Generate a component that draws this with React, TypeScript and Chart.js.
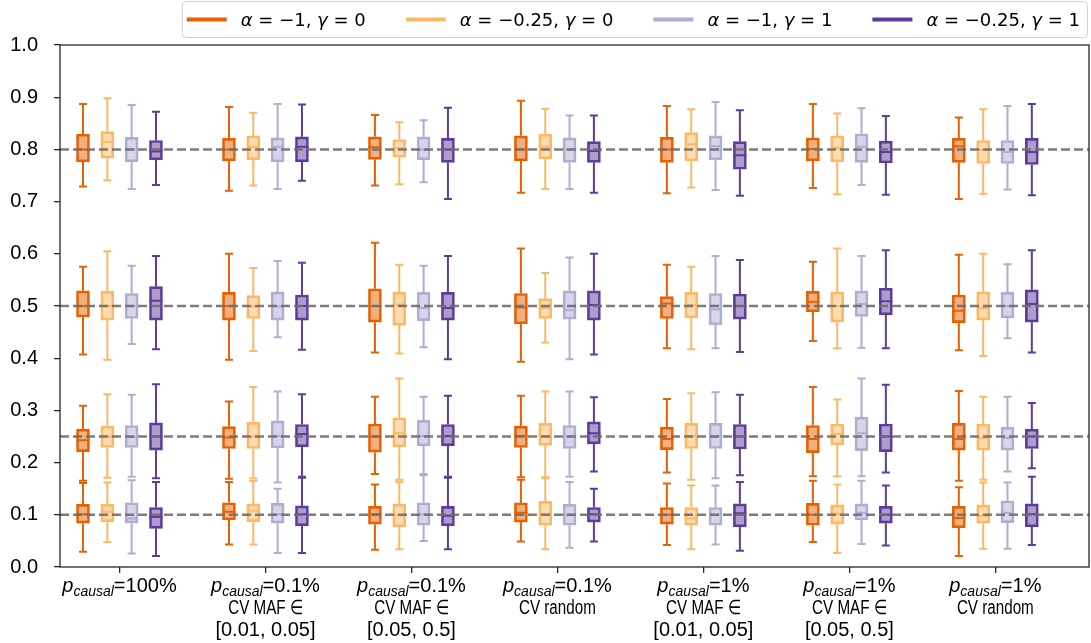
import React, { useEffect, useRef } from "react";
import { Chart, registerables } from "chart.js";

Chart.register(...registerables);

// ---------------- data ----------------
const SERIES_NAMES = ["α = −1, γ = 0", "α = −0.25, γ = 0", "α = −1, γ = 1", "α = −0.25, γ = 1"];
const SERIES_COLORS = ["#e66101", "#fdb863", "#b2abd2", "#5e3c99"];
const SERIES_FILLS = ["rgba(230,97,1,0.5)", "rgba(253,184,99,0.5)", "rgba(178,171,210,0.5)", "rgba(94,60,153,0.5)"];

const P_CAUSAL = ["100%", "0.1%", "0.1%", "0.1%", "1%", "1%", "1%"];
const CV_LINE = ["", "CV MAF ∈", "CV MAF ∈", "CV random", "CV MAF ∈", "CV MAF ∈", "CV random"];
const MAF_LINE = ["", "[0.01, 0.05]", "[0.05, 0.5]", "", "[0.01, 0.05]", "[0.05, 0.5]", ""];

const TRUE_LEVELS = [0.8, 0.5, 0.25, 0.1];
const Y_MIN = 0;
const Y_MAX = 1;
const Y_STEP = 0.1;

// each box: [whiskerLow, q1, median, q3, whiskerHigh]; per group, levels 0.8, 0.5, 0.25, 0.1
const BOXES_A1_G0 = [
  [0.729, 0.776, 0.800, 0.829, 0.887], [0.407, 0.479, 0.500, 0.529, 0.575], [0.165, 0.221, 0.243, 0.264, 0.309], [0.029, 0.084, 0.101, 0.120, 0.161],
  [0.721, 0.778, 0.800, 0.821, 0.881], [0.397, 0.473, 0.500, 0.526, 0.600], [0.169, 0.227, 0.248, 0.269, 0.317], [0.043, 0.090, 0.106, 0.123, 0.163],
  [0.731, 0.781, 0.804, 0.824, 0.866], [0.411, 0.469, 0.500, 0.533, 0.621], [0.178, 0.220, 0.250, 0.274, 0.326], [0.033, 0.082, 0.101, 0.116, 0.158],
  [0.717, 0.778, 0.800, 0.826, 0.893], [0.393, 0.466, 0.497, 0.524, 0.610], [0.172, 0.229, 0.251, 0.270, 0.328], [0.049, 0.086, 0.104, 0.123, 0.167],
  [0.716, 0.775, 0.800, 0.823, 0.883], [0.419, 0.476, 0.505, 0.518, 0.579], [0.181, 0.225, 0.245, 0.268, 0.322], [0.042, 0.082, 0.100, 0.114, 0.160],
  [0.726, 0.778, 0.801, 0.822, 0.887], [0.433, 0.489, 0.508, 0.528, 0.585], [0.174, 0.219, 0.245, 0.271, 0.345], [0.048, 0.080, 0.100, 0.122, 0.165],
  [0.705, 0.775, 0.806, 0.821, 0.861], [0.415, 0.468, 0.491, 0.521, 0.598], [0.165, 0.224, 0.245, 0.275, 0.337], [0.021, 0.075, 0.094, 0.116, 0.153],
];
const BOXES_A025_G0 = [
  [0.741, 0.783, 0.814, 0.834, 0.898], [0.397, 0.473, 0.500, 0.528, 0.605], [0.171, 0.229, 0.250, 0.270, 0.331], [0.048, 0.087, 0.106, 0.120, 0.162],
  [0.731, 0.780, 0.805, 0.826, 0.870], [0.414, 0.476, 0.499, 0.520, 0.573], [0.170, 0.227, 0.250, 0.277, 0.345], [0.043, 0.087, 0.108, 0.121, 0.165],
  [0.733, 0.785, 0.802, 0.819, 0.852], [0.409, 0.463, 0.503, 0.526, 0.579], [0.167, 0.230, 0.256, 0.286, 0.361], [0.034, 0.077, 0.099, 0.121, 0.163],
  [0.724, 0.782, 0.805, 0.829, 0.878], [0.430, 0.476, 0.496, 0.514, 0.563], [0.172, 0.233, 0.251, 0.275, 0.336], [0.034, 0.080, 0.101, 0.126, 0.170],
  [0.727, 0.778, 0.810, 0.832, 0.877], [0.417, 0.477, 0.502, 0.526, 0.575], [0.167, 0.227, 0.251, 0.275, 0.333], [0.034, 0.080, 0.093, 0.114, 0.156],
  [0.714, 0.776, 0.803, 0.826, 0.869], [0.419, 0.469, 0.500, 0.527, 0.610], [0.174, 0.234, 0.255, 0.274, 0.321], [0.027, 0.082, 0.102, 0.119, 0.158],
  [0.715, 0.773, 0.799, 0.817, 0.877], [0.404, 0.473, 0.496, 0.527, 0.600], [0.167, 0.224, 0.247, 0.274, 0.326], [0.035, 0.084, 0.098, 0.119, 0.162],
];
const BOXES_A1_G1 = [
  [0.724, 0.776, 0.800, 0.823, 0.885], [0.427, 0.476, 0.500, 0.524, 0.577], [0.173, 0.229, 0.249, 0.271, 0.330], [0.026, 0.084, 0.093, 0.123, 0.166],
  [0.724, 0.776, 0.805, 0.822, 0.887], [0.440, 0.473, 0.499, 0.527, 0.586], [0.162, 0.228, 0.251, 0.280, 0.336], [0.027, 0.084, 0.101, 0.122, 0.150],
  [0.737, 0.780, 0.800, 0.824, 0.856], [0.421, 0.472, 0.496, 0.526, 0.577], [0.178, 0.232, 0.251, 0.281, 0.326], [0.050, 0.080, 0.101, 0.123, 0.176],
  [0.724, 0.775, 0.800, 0.822, 0.865], [0.398, 0.475, 0.492, 0.529, 0.593], [0.173, 0.227, 0.250, 0.271, 0.336], [0.037, 0.080, 0.100, 0.120, 0.163],
  [0.722, 0.780, 0.806, 0.826, 0.891], [0.419, 0.464, 0.494, 0.524, 0.596], [0.170, 0.227, 0.250, 0.275, 0.335], [0.043, 0.080, 0.100, 0.114, 0.156],
  [0.732, 0.775, 0.805, 0.830, 0.879], [0.420, 0.480, 0.504, 0.529, 0.596], [0.174, 0.223, 0.256, 0.287, 0.361], [0.044, 0.090, 0.104, 0.121, 0.165],
  [0.723, 0.773, 0.795, 0.817, 0.883], [0.438, 0.477, 0.500, 0.526, 0.580], [0.183, 0.224, 0.247, 0.268, 0.326], [0.035, 0.085, 0.104, 0.127, 0.162],
];
const BOXES_A025_G1 = [
  [0.732, 0.780, 0.796, 0.817, 0.872], [0.417, 0.473, 0.510, 0.537, 0.596], [0.170, 0.224, 0.250, 0.276, 0.350], [0.021, 0.074, 0.096, 0.114, 0.163],
  [0.740, 0.776, 0.805, 0.824, 0.886], [0.416, 0.473, 0.500, 0.521, 0.583], [0.173, 0.230, 0.255, 0.273, 0.331], [0.027, 0.079, 0.101, 0.117, 0.171],
  [0.705, 0.775, 0.800, 0.821, 0.880], [0.398, 0.473, 0.496, 0.526, 0.596], [0.173, 0.232, 0.251, 0.273, 0.328], [0.034, 0.079, 0.098, 0.116, 0.171],
  [0.717, 0.775, 0.797, 0.815, 0.865], [0.407, 0.473, 0.502, 0.529, 0.600], [0.183, 0.236, 0.256, 0.278, 0.325], [0.049, 0.086, 0.101, 0.114, 0.150],
  [0.711, 0.762, 0.789, 0.815, 0.875], [0.412, 0.475, 0.500, 0.523, 0.588], [0.176, 0.226, 0.250, 0.273, 0.330], [0.031, 0.077, 0.103, 0.121, 0.163],
  [0.713, 0.774, 0.795, 0.816, 0.864], [0.419, 0.483, 0.509, 0.534, 0.607], [0.181, 0.221, 0.250, 0.274, 0.349], [0.041, 0.084, 0.100, 0.116, 0.156],
  [0.712, 0.771, 0.795, 0.821, 0.887], [0.411, 0.469, 0.504, 0.531, 0.607], [0.189, 0.227, 0.250, 0.264, 0.314], [0.042, 0.077, 0.101, 0.121, 0.173],
];

const SERIES_BOXES = [BOXES_A1_G0, BOXES_A025_G0, BOXES_A1_G1, BOXES_A025_G1];

// ---------------- layout / style ----------------
const W = 1091;
const H = 643;
const GROUP_STEP = 6;
const BOX_OFFSETS = [-1.5, -0.5, 0.5, 1.5];
const X_MIN = -2.445;
const X_MAX = 39.85;
const Y_AXIS_W = 60;
const BOX_PX = 13;
const CAP_PX = 8;
const AXIS_COLOR = "#262626";
const TICK_FONT = '"Liberation Sans", Arial, sans-serif';
const LEGEND_FONT = '"DejaVu Sans", sans-serif';
const LEGEND_SIZE = 18;

const levelsPerGroup = TRUE_LEVELS.length;
const boxPos = (g: number, s: number) => g * GROUP_STEP + BOX_OFFSETS[s];

function drawRuns(ctx: CanvasRenderingContext2D, runs: { t: string; f: string; dy?: number }[], cx: number, base: number, align: "center" | "left") {
  let total = 0;
  runs.forEach((r) => {
    ctx.font = r.f;
    total += ctx.measureText(r.t).width;
  });
  let x = align === "center" ? cx - total / 2 : cx;
  ctx.textAlign = "left";
  runs.forEach((r) => {
    ctx.font = r.f;
    ctx.fillText(r.t, x, base + (r.dy || 0));
    x += ctx.measureText(r.t).width;
  });
  return total;
}

function legendRuns(label: string) {
  const runs: { t: string; f: string }[] = [];
  for (const ch of label) {
    const it = ch === "α" || ch === "γ";
    const f = (it ? "italic " : "") + LEGEND_SIZE + "px " + LEGEND_FONT;
    const last = runs[runs.length - 1];
    if (last && last.f === f) last.t += ch;
    else runs.push({ t: ch, f });
  }
  return runs;
}

const boxExtras = {
  id: "boxExtras",
  afterDatasetsDraw(chart: any) {
    const { ctx, chartArea } = chart;
    const x = chart.scales.x;
    const y = chart.scales.y;
    ctx.save();
    ctx.lineCap = "butt";
    SERIES_BOXES.forEach((boxes, s) => {
      ctx.strokeStyle = SERIES_COLORS[s];
      ctx.lineWidth = 2;
      boxes.forEach((b, i) => {
        const g = Math.floor(i / levelsPerGroup);
        const cx = x.getPixelForValue(boxPos(g, s));
        const [lo, q1, med, q3, hi] = b.map((v: number) => y.getPixelForValue(v));
        ctx.beginPath();
        ctx.moveTo(cx, q1);
        ctx.lineTo(cx, lo);
        ctx.moveTo(cx - CAP_PX / 2, lo);
        ctx.lineTo(cx + CAP_PX / 2, lo);
        ctx.moveTo(cx, q3);
        ctx.lineTo(cx, hi);
        ctx.moveTo(cx - CAP_PX / 2, hi);
        ctx.lineTo(cx + CAP_PX / 2, hi);
        ctx.moveTo(cx - BOX_PX / 2, med);
        ctx.lineTo(cx + BOX_PX / 2, med);
        ctx.stroke();
      });
    });
    // reference dashed lines
    ctx.strokeStyle = "rgba(110,110,110,0.9)";
    ctx.lineWidth = 2.5;
    ctx.setLineDash([9, 4]);
    TRUE_LEVELS.forEach((v) => {
      const py = y.getPixelForValue(v);
      ctx.beginPath();
      ctx.moveTo(chartArea.left, py);
      ctx.lineTo(chartArea.right, py);
      ctx.stroke();
    });
    ctx.restore();
  },
  afterDraw(chart: any) {
    const { ctx, chartArea } = chart;
    const x = chart.scales.x;
    ctx.save();
    // spines
    ctx.strokeStyle = AXIS_COLOR;
    ctx.lineWidth = 1.3;
    ctx.strokeRect(chartArea.left, chartArea.top, chartArea.right - chartArea.left, chartArea.bottom - chartArea.top);

    // x labels
    ctx.fillStyle = "#000";
    ctx.textBaseline = "alphabetic";
    P_CAUSAL.forEach((p, g) => {
      const cx = x.getPixelForValue(g * GROUP_STEP);
      const base = chartArea.bottom + 25;
      drawRuns(
        ctx,
        [
          { t: "p", f: "italic 20px " + TICK_FONT },
          { t: "causal", f: "italic 14px " + TICK_FONT, dy: 4 },
          { t: "=" + p, f: "20px " + TICK_FONT },
        ],
        cx,
        base,
        "center"
      );
      if (CV_LINE[g]) {
        ctx.save();
        ctx.translate(cx, base + 22);
        ctx.scale(0.76, 1);
        ctx.font = "20px " + TICK_FONT;
        ctx.textAlign = "center";
        ctx.fillText(CV_LINE[g], 0, 0);
        ctx.restore();
      }
      if (MAF_LINE[g]) {
        ctx.font = "20px " + TICK_FONT;
        ctx.textAlign = "center";
        ctx.fillText(MAF_LINE[g], cx, base + 44);
      }
    });

    // legend
    const HANDLE = 40;
    const PAD = 14;
    const COLSP = 40;
    const widths = SERIES_NAMES.map((n) => {
      let w = 0;
      legendRuns(n).forEach((r) => {
        ctx.font = r.f;
        w += ctx.measureText(r.t).width;
      });
      return w;
    });
    const total = widths.reduce((a, w) => a + HANDLE + PAD + w, 0) + COLSP * (SERIES_NAMES.length - 1);
    const boxRight = 1087;
    const boxLeft = boxRight - total - 12;
    ctx.fillStyle = "rgba(255,255,255,0.85)";
    ctx.strokeStyle = "#d0d0d0";
    ctx.lineWidth = 1;
    ctx.beginPath();
    ctx.roundRect(boxLeft + 0.5, 1.5, boxRight - boxLeft, 36, 4);
    ctx.fill();
    ctx.stroke();
    let lx = boxLeft + 5;
    SERIES_NAMES.forEach((n, s) => {
      ctx.strokeStyle = SERIES_COLORS[s];
      ctx.lineWidth = 4;
      ctx.beginPath();
      ctx.moveTo(lx, 19.5);
      ctx.lineTo(lx + HANDLE, 19.5);
      ctx.stroke();
      ctx.fillStyle = "#000";
      drawRuns(ctx, legendRuns(n), lx + HANDLE + PAD, 26, "left");
      lx += HANDLE + PAD + widths[s] + COLSP;
    });
    ctx.restore();
  },
};

export default function App() {
  const ref = useRef<HTMLCanvasElement | null>(null);
  useEffect(() => {
    if (!ref.current) return;
    const datasets = SERIES_BOXES.map((boxes, s) => ({
      label: SERIES_NAMES[s],
      data: boxes.map((b, i) => ({ x: boxPos(Math.floor(i / levelsPerGroup), s), y: [b[1], b[3]] })),
      backgroundColor: SERIES_FILLS[s],
      borderColor: SERIES_COLORS[s],
      borderWidth: 2,
      borderSkipped: false,
      barThickness: BOX_PX,
      grouped: false,
    }));
    const chart = new Chart(ref.current, {
      type: "bar",
      data: { datasets: datasets as any },
      plugins: [boxExtras],
      options: {
        responsive: false,
        animation: false,
        events: [],
        layout: { padding: { top: 45, right: 2, left: 0, bottom: 0 }, autoPadding: false } as any,
        plugins: { legend: { display: false }, tooltip: { enabled: false } },
        scales: {
          x: {
            type: "linear",
            min: X_MIN,
            max: X_MAX,
            bounds: "data",
            offset: false,
            grid: { offset: false, drawOnChartArea: false, drawTicks: true, tickLength: 6, color: AXIS_COLOR, lineWidth: 1.3 },
            border: { display: false },
            ticks: { autoSkip: false, callback: () => "" },
            afterBuildTicks: (scale: any) => {
              scale.ticks = P_CAUSAL.map((_, g) => ({ value: g * GROUP_STEP }));
            },
            afterFit: (scale: any) => {
              scale.height = 76;
            },
          },
          y: {
            type: "linear",
            min: Y_MIN,
            max: Y_MAX,
            beginAtZero: true,
            grid: { drawOnChartArea: false, drawTicks: true, tickLength: 6, color: AXIS_COLOR, lineWidth: 1.3 },
            border: { display: false },
            ticks: {
              stepSize: Y_STEP,
              padding: 16,
              color: "#000",
              font: { family: TICK_FONT, size: 20 },
              callback: (v: any) => Number(v).toFixed(1),
            },
            afterFit: (scale: any) => {
              scale.width = Y_AXIS_W;
            },
          },
        },
      } as any,
    });
    return () => chart.destroy();
  }, []);
  return (
    <div style={{ position: "absolute", left: 0, top: 0, width: W, height: H, background: "#fff" }}>
      <canvas ref={ref} width={W} height={H} style={{ display: "block" }} />
    </div>
  );
}
